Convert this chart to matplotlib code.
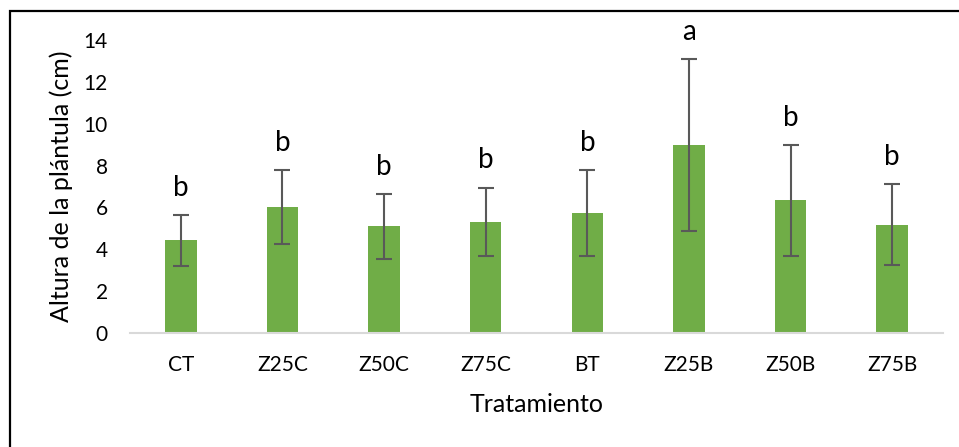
import matplotlib
matplotlib.use("Agg")
import matplotlib.pyplot as plt
from matplotlib.patches import Rectangle

# data
treatments = ["CT", "Z25C", "Z50C", "Z75C", "BT", "Z25B", "Z50B", "Z75B"]
heights = [4.42, 6.02, 5.09, 5.31, 5.74, 8.97, 6.34, 5.17]
errors = [1.22, 1.78, 1.55, 1.64, 2.05, 4.10, 2.65, 1.94]
letters = ["b", "b", "b", "b", "b", "a", "b", "b"]

plt.rcParams["font.family"] = ["Lato", "DejaVu Sans"]

fig = plt.figure(figsize=(9.59, 4.47), dpi=100)
ax = fig.add_axes([130 / 959, 1 - 333 / 447, 813 / 959, 293 / 447])

x = range(len(treatments))
ax.bar(x, heights, width=0.31, color="#70AD47", zorder=2)
ax.errorbar(x, heights, yerr=errors, fmt="none", ecolor="#595959",
            elinewidth=1.5, capsize=6, capthick=1.5, zorder=3)

# significance letters above the error bars
for xi, h, e, lab in zip(x, heights, errors, letters):
    ax.text(xi, h + e + 1.3, lab, ha="center", va="center",
            fontsize=20, clip_on=False)

ax.set_xlim(-0.5, len(treatments) - 0.5)
ax.set_ylim(0, 14)
ax.set_yticks(range(0, 15, 2))
ax.set_xticks(list(x))
ax.set_xticklabels(treatments)
ax.tick_params(axis="both", length=0, labelsize=15)
ax.tick_params(axis="x", pad=16)
ax.tick_params(axis="y", pad=16)

for side in ["top", "right", "left"]:
    ax.spines[side].set_visible(False)
ax.spines["bottom"].set_color("#D9D9D9")
ax.spines["bottom"].set_linewidth(1.5)

ax.set_xlabel("Tratamiento", fontsize=18)
ax.set_ylabel("Altura de la plántula (cm)", fontsize=18)
ax.xaxis.set_label_coords(0.5, -0.205)
ax.yaxis.set_label_coords(-0.07, 0.5)

# outer chart frame (only top and left edges fall inside the picture)
fig.patches.append(Rectangle((9.5 / 959, -0.1), 1.2, 1 - 10.5 / 447 + 0.1,
                             transform=fig.transFigure, fill=False,
                             edgecolor="black", linewidth=1.6))

fig.savefig("out.png", dpi=100)
